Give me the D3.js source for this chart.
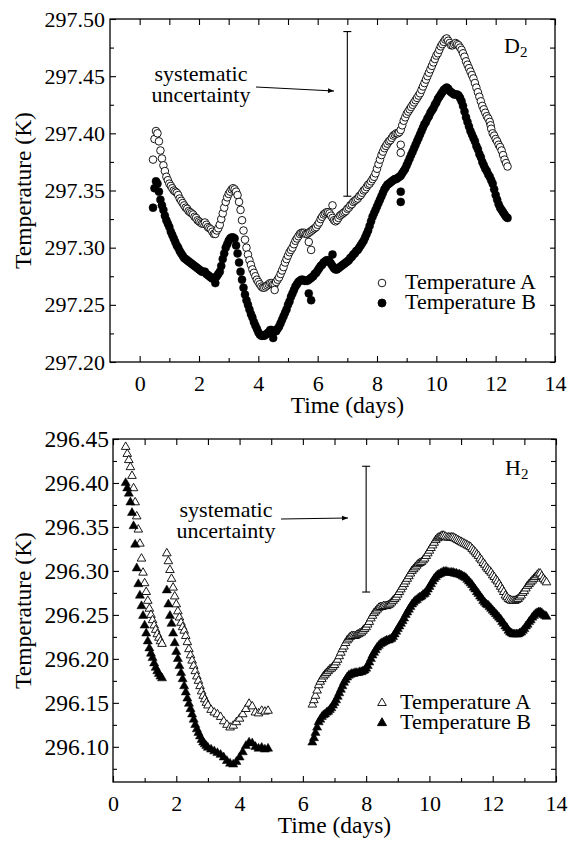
<!DOCTYPE html>
<html>
<head>
<meta charset="utf-8">
<script src="https://d3js.org/d3.v7.min.js"></script>
<style>
  body { margin: 0; background: #fff; }
</style>
</head>
<body>
<div id="chart"></div>
<script>

  // ---- D2 panel data (days, temperature in K) ----
  var d2Days = [
    0.5, 0.6, 0.7, 0.8, 0.9, 1.0, 1.1, 1.2, 1.3, 1.4,
    1.5, 1.6, 1.7, 1.8, 1.9, 2.0, 2.1, 2.2, 2.3, 2.4,
    2.5, 2.6, 2.7, 2.8, 2.9, 3.0, 3.1, 3.2, 3.3, 3.4,
    3.5, 3.6, 3.7, 3.8, 3.9, 4.0, 4.1, 4.2, 4.3, 4.4,
    4.5, 4.6, 4.7, 4.8, 4.9, 5.0, 5.1, 5.2, 5.3, 5.4,
    5.5, 5.6, 5.7, 5.8, 5.9, 6.0, 6.1, 6.2, 6.3, 6.4,
    6.5, 6.6, 6.7, 6.8, 6.9, 7.0, 7.1, 7.2, 7.3, 7.4,
    7.5, 7.6, 7.7, 7.8, 7.9, 8.0, 8.1, 8.2, 8.3, 8.4,
    8.5, 8.6, 8.7, 8.8, 8.9, 9.0, 9.1, 9.2, 9.3, 9.4,
    9.5, 9.6, 9.7, 9.8, 9.9, 10.0, 10.1, 10.2, 10.3, 10.4,
    10.5, 10.6, 10.7, 10.8, 10.9, 11.0, 11.1, 11.2, 11.3, 11.4,
    11.5, 11.6, 11.7, 11.8, 11.9, 12.0, 12.1, 12.2, 12.3, 12.4
  ];
  var d2TempA = [
    297.395, 297.400, 297.385, 297.372, 297.362, 297.356, 297.352, 297.349, 297.346, 297.341,
    297.337, 297.334, 297.331, 297.329, 297.326, 297.323, 297.321, 297.322, 297.318, 297.316,
    297.312, 297.315, 297.320, 297.330, 297.340, 297.347, 297.351, 297.351, 297.346, 297.333,
    297.315, 297.300, 297.289, 297.281, 297.275, 297.270, 297.266, 297.265, 297.267, 297.269,
    297.268, 297.270, 297.274, 297.280, 297.287, 297.293, 297.298, 297.303, 297.308, 297.312,
    297.313, 297.312, 297.313, 297.315, 297.317, 297.320, 297.325, 297.329, 297.331, 297.330,
    297.326, 297.323, 297.326, 297.329, 297.331, 297.334, 297.337, 297.340, 297.342, 297.345,
    297.348, 297.351, 297.355, 297.358, 297.362, 297.369, 297.377, 297.384, 297.389, 297.393,
    297.396, 297.399, 297.400, 297.403, 297.411, 297.417, 297.421, 297.425, 297.429, 297.433,
    297.438, 297.444, 297.450, 297.456, 297.462, 297.468, 297.473, 297.478, 297.482, 297.481,
    297.477, 297.478, 297.478, 297.475, 297.470, 297.463, 297.457, 297.451, 297.444, 297.436,
    297.428, 297.421, 297.415, 297.410, 297.400, 297.395, 297.390, 297.385, 297.377, 297.371
  ];
  var d2TempB = [
    297.352, 297.356, 297.342, 297.333, 297.324, 297.318, 297.311, 297.305, 297.300, 297.295,
    297.291, 297.289, 297.287, 297.285, 297.283, 297.281, 297.279, 297.279, 297.276, 297.274,
    297.273, 297.275, 297.279, 297.290, 297.300, 297.306, 297.309, 297.308, 297.295, 297.279,
    297.265, 297.254, 297.246, 297.239, 297.232, 297.226, 297.223, 297.223, 297.225, 297.228,
    297.227, 297.227, 297.231, 297.237, 297.243, 297.250, 297.257, 297.263, 297.268, 297.271,
    297.272, 297.271, 297.272, 297.274, 297.277, 297.280, 297.284, 297.287, 297.289, 297.288,
    297.284, 297.281, 297.282, 297.284, 297.286, 297.288, 297.291, 297.294, 297.297, 297.300,
    297.304, 297.309, 297.315, 297.323, 297.330, 297.336, 297.342, 297.348, 297.353, 297.356,
    297.358, 297.360, 297.361, 297.363, 297.367, 297.372, 297.378, 297.384, 297.390, 297.396,
    297.402, 297.408, 297.413, 297.418, 297.422, 297.427, 297.432, 297.436, 297.439, 297.439,
    297.436, 297.434, 297.434, 297.431, 297.424, 297.414, 297.406, 297.399, 297.393, 297.386,
    297.379, 297.372, 297.367, 297.362, 297.356, 297.346, 297.338, 297.333, 297.329, 297.326
  ];
  // readings taken between the ones above
  var d2DaysMid = [
    0.55, 0.65, 0.75, 0.85, 0.95, 1.05, 1.15, 1.25, 1.35, 1.45,
    1.55, 1.65, 1.75, 1.85, 1.95, 2.05, 2.15, 2.25, 2.35, 2.45,
    2.55, 2.65, 2.75, 2.85, 2.95, 3.05, 3.15, 3.25, 3.35, 3.45,
    3.55, 3.65, 3.75, 3.85, 3.95, 4.05, 4.15, 4.25, 4.35, 4.45,
    4.55, 4.65, 4.75, 4.85, 4.95, 5.05, 5.15, 5.25, 5.35, 5.45,
    5.55, 5.65, 5.75, 5.85, 5.95, 6.05, 6.15, 6.25, 6.35, 6.45,
    6.55, 6.65, 6.75, 6.85, 6.95, 7.05, 7.15, 7.25, 7.35, 7.45,
    7.55, 7.65, 7.75, 7.85, 7.95, 8.05, 8.15, 8.25, 8.35, 8.45,
    8.55, 8.65, 8.75, 8.85, 8.95, 9.05, 9.15, 9.25, 9.35, 9.45,
    9.55, 9.65, 9.75, 9.85, 9.95, 10.05, 10.15, 10.25, 10.35, 10.45,
    10.55, 10.65, 10.75, 10.85, 10.95, 11.05, 11.15, 11.25, 11.35, 11.45,
    11.55, 11.65, 11.75, 11.85, 11.95, 12.05, 12.15, 12.25, 12.35
  ];
  var d2TempAMid = [
    297.402, 297.393, 297.378, 297.367, 297.359, 297.354, 297.350, 297.348, 297.343, 297.339,
    297.335, 297.332, 297.330, 297.327, 297.324, 297.322, 297.321, 297.320, 297.317, 297.314,
    297.312, 297.317, 297.325, 297.335, 297.344, 297.349, 297.352, 297.349, 297.340, 297.324,
    297.307, 297.294, 297.285, 297.278, 297.272, 297.268, 297.265, 297.266, 297.268, 297.269,
    297.268, 297.272, 297.277, 297.283, 297.290, 297.296, 297.300, 297.306, 297.310, 297.313,
    297.313, 297.312, 297.314, 297.316, 297.318, 297.322, 297.327, 297.330, 297.331, 297.328,
    297.324, 297.324, 297.328, 297.330, 297.332, 297.335, 297.338, 297.341, 297.343, 297.346,
    297.350, 297.353, 297.356, 297.360, 297.365, 297.373, 297.381, 297.387, 297.391, 297.394,
    297.398, 297.400, 297.401, 297.407, 297.414, 297.419, 297.423, 297.427, 297.431, 297.435,
    297.441, 297.447, 297.453, 297.459, 297.465, 297.470, 297.476, 297.480, 297.483, 297.479,
    297.477, 297.479, 297.477, 297.473, 297.467, 297.460, 297.454, 297.448, 297.440, 297.432,
    297.424, 297.418, 297.413, 297.404, 297.398, 297.393, 297.388, 297.381, 297.374
  ];
  var d2TempBMid = [
    297.358, 297.349, 297.337, 297.328, 297.321, 297.314, 297.308, 297.302, 297.297, 297.293,
    297.290, 297.288, 297.286, 297.284, 297.282, 297.280, 297.279, 297.277, 297.275, 297.273,
    297.274, 297.277, 297.284, 297.295, 297.303, 297.308, 297.309, 297.302, 297.287, 297.272,
    297.259, 297.250, 297.242, 297.235, 297.229, 297.224, 297.223, 297.224, 297.226, 297.228,
    297.227, 297.229, 297.234, 297.240, 297.246, 297.253, 297.260, 297.266, 297.270, 297.272,
    297.271, 297.271, 297.273, 297.275, 297.278, 297.282, 297.285, 297.288, 297.289, 297.286,
    297.282, 297.281, 297.283, 297.285, 297.287, 297.289, 297.292, 297.295, 297.298, 297.302,
    297.306, 297.312, 297.319, 297.327, 297.333, 297.339, 297.345, 297.351, 297.355, 297.357,
    297.359, 297.360, 297.362, 297.365, 297.369, 297.375, 297.381, 297.387, 297.393, 297.399,
    297.405, 297.410, 297.415, 297.420, 297.425, 297.430, 297.434, 297.438, 297.440, 297.437,
    297.435, 297.434, 297.433, 297.428, 297.419, 297.410, 297.402, 297.396, 297.389, 297.382,
    297.375, 297.369, 297.364, 297.359, 297.351, 297.342, 297.335, 297.331, 297.327
  ];
  // stray readings
  var d2StrayDaysA = [0.45, 4.55, 5.7, 5.78, 6.5, 8.8, 8.8, 11.83];
  var d2StrayA = [297.377, 297.263, 297.305, 297.298, 297.337, 297.390, 297.383, 297.407];
  var d2StrayDaysB = [0.45, 2.55, 4.5, 5.7, 5.78, 6.5, 8.8, 8.8];
  var d2StrayB = [297.335, 297.269, 297.221, 297.260, 297.254, 297.294, 297.349, 297.340];

  // ---- H2 panel data ----
  var h2Days = [
    0.40, 0.45, 0.50, 0.55, 0.60, 0.65, 0.70, 0.75, 0.80, 0.85, 0.90, 0.95,
    1.00, 1.05, 1.10, 1.15, 1.20, 1.25, 1.30, 1.35, 1.40, 1.45, 1.50, 1.55,
    1.70, 1.75, 1.80, 1.85, 1.90, 1.95, 2.00, 2.05, 2.10, 2.15, 2.20, 2.25, 2.30, 2.35,
    2.40, 2.45, 2.50, 2.55, 2.60, 2.65, 2.70, 2.75, 2.80, 2.85, 2.90, 2.95, 3.00,
    3.1, 3.2, 3.3, 3.4, 3.5, 3.6, 3.7, 3.8, 3.9, 4.0, 4.1, 4.2, 4.3, 4.4, 4.5, 4.6, 4.7, 4.8, 4.9,
    6.3, 6.4, 6.5, 6.6, 6.7, 6.8, 6.9, 7.0, 7.1, 7.2,
    7.3, 7.4, 7.5, 7.6, 7.7, 7.8, 7.9, 8.0, 8.1, 8.2,
    8.3, 8.4, 8.5, 8.6, 8.7, 8.8, 8.9, 9.0, 9.1, 9.2,
    9.3, 9.4, 9.5, 9.6, 9.7, 9.8, 9.9, 10.0, 10.1, 10.2,
    10.3, 10.4, 10.5, 10.6, 10.7, 10.8, 10.9, 11.0, 11.1, 11.2,
    11.3, 11.4, 11.5, 11.6, 11.7, 11.8, 11.9, 12.0, 12.1, 12.2,
    12.3, 12.4, 12.5, 12.6, 12.7, 12.8, 12.9, 13.0, 13.1, 13.2,
    13.3, 13.4, 13.5, 13.6, 13.7
  ];
  var h2TempA = [
    296.441, 296.433, 296.426, 296.418, 296.408, 296.394, 296.378, 296.362, 296.347, 296.331, 296.314, 296.298,
    296.286, 296.276, 296.266, 296.257, 296.250, 296.244, 296.238, 296.233, 296.228, 296.224, 296.220, 296.217,
    296.320, 296.311, 296.301, 296.291, 296.281, 296.271, 296.262, 296.254, 296.247, 296.241, 296.236, 296.232, 296.226, 296.219,
    296.211, 296.204, 296.198, 296.192, 296.186, 296.180, 296.175, 296.169, 296.163, 296.158, 296.154, 296.150, 296.147,
    296.142, 296.139, 296.137, 296.134, 296.129, 296.125, 296.122, 296.124, 296.128, 296.132, 296.137, 296.143, 296.149, 296.146, 296.139, 296.138, 296.141, 296.140, 296.141,
    296.148, 296.158, 296.170, 296.177, 296.182, 296.186, 296.189, 296.193, 296.199, 296.207,
    296.214, 296.221, 296.225, 296.226, 296.227, 296.229, 296.232, 296.236, 296.242, 296.249,
    296.254, 296.258, 296.259, 296.260, 296.261, 296.264, 296.268, 296.273, 296.279, 296.285,
    296.291, 296.297, 296.302, 296.306, 296.309, 296.312, 296.317, 296.323, 296.329, 296.335,
    296.338, 296.340, 296.339, 296.338, 296.338, 296.337, 296.335, 296.333, 296.331, 296.329,
    296.327, 296.323, 296.319, 296.314, 296.309, 296.304, 296.300, 296.295, 296.290, 296.285,
    296.279, 296.272, 296.268, 296.266, 296.266, 296.268, 296.272, 296.277, 296.283, 296.287,
    296.291, 296.295, 296.297, 296.291, 296.287
  ];
  var h2TempB = [
    296.400, 296.394, 296.388, 296.378, 296.366, 296.351, 296.330, 296.303, 296.285, 296.272, 296.260, 296.249,
    296.238, 296.229, 296.220, 296.212, 296.206, 296.201, 296.195, 296.190, 296.186, 296.183, 296.180, 296.178,
    296.278, 296.262, 296.249, 296.240, 296.229, 296.218, 296.208, 296.200, 296.192, 296.184, 296.177, 296.169, 296.162, 296.155,
    296.149, 296.143, 296.137, 296.131, 296.125, 296.120, 296.116, 296.112, 296.108, 296.105, 296.103, 296.101, 296.099,
    296.097, 296.095, 296.093, 296.091, 296.088, 296.084, 296.081, 296.080, 296.083, 296.088, 296.094, 296.101, 296.105, 296.104, 296.100, 296.098, 296.099, 296.097, 296.098,
    296.105, 296.116, 296.128, 296.134, 296.137, 296.140, 296.144, 296.150, 296.157, 296.165,
    296.173, 296.179, 296.182, 296.183, 296.184, 296.185, 296.186, 296.189, 296.196, 296.204,
    296.210, 296.215, 296.218, 296.220, 296.221, 296.223, 296.228, 296.234, 296.240, 296.246,
    296.253, 296.259, 296.264, 296.267, 296.270, 296.273, 296.276, 296.282, 296.288, 296.293,
    296.296, 296.298, 296.299, 296.298, 296.298, 296.297, 296.296, 296.295, 296.293, 296.290,
    296.286, 296.281, 296.276, 296.271, 296.266, 296.262, 296.259, 296.255, 296.251, 296.247,
    296.242, 296.237, 296.232, 296.229, 296.228, 296.228, 296.230, 296.234, 296.239, 296.244,
    296.249, 296.252, 296.253, 296.250, 296.248
  ];
  // extra readings along the last run (6.35 .. 13.65 days)
  var h2DaysMid = [
    6.35, 6.45, 6.55, 6.65, 6.75, 6.85, 6.95, 7.05, 7.15, 7.25,
    7.35, 7.45, 7.55, 7.65, 7.75, 7.85, 7.95, 8.05, 8.15, 8.25,
    8.35, 8.45, 8.55, 8.65, 8.75, 8.85, 8.95, 9.05, 9.15, 9.25,
    9.35, 9.45, 9.55, 9.65, 9.75, 9.85, 9.95, 10.05, 10.15, 10.25,
    10.35, 10.45, 10.55, 10.65, 10.75, 10.85, 10.95, 11.05, 11.15, 11.25,
    11.35, 11.45, 11.55, 11.65, 11.75, 11.85, 11.95, 12.05, 12.15, 12.25,
    12.35, 12.45, 12.55, 12.65, 12.75, 12.85, 12.95, 13.05, 13.15, 13.25,
    13.35, 13.45, 13.55, 13.65
  ];
  var h2TempAMid = [
    296.153, 296.164, 296.174, 296.180, 296.184, 296.188, 296.191, 296.196, 296.203, 296.211,
    296.218, 296.223, 296.226, 296.226, 296.228, 296.230, 296.234, 296.239, 296.246, 296.252,
    296.256, 296.259, 296.260, 296.260, 296.262, 296.266, 296.270, 296.276, 296.282, 296.288,
    296.294, 296.300, 296.304, 296.308, 296.310, 296.314, 296.320, 296.326, 296.332, 296.337,
    296.339, 296.340, 296.338, 296.338, 296.338, 296.336, 296.334, 296.332, 296.330, 296.328,
    296.325, 296.321, 296.317, 296.312, 296.307, 296.302, 296.298, 296.293, 296.288, 296.282,
    296.276, 296.270, 296.267, 296.266, 296.267, 296.270, 296.275, 296.280, 296.285, 296.289,
    296.293, 296.297, 296.294, 296.289
  ];
  var h2TempBMid = [
    296.110, 296.122, 296.131, 296.136, 296.139, 296.142, 296.147, 296.153, 296.161, 296.169,
    296.176, 296.181, 296.183, 296.184, 296.184, 296.185, 296.187, 296.192, 296.200, 296.207,
    296.213, 296.217, 296.219, 296.221, 296.222, 296.225, 296.231, 296.237, 296.243, 296.250,
    296.256, 296.262, 296.266, 296.269, 296.271, 296.274, 296.279, 296.285, 296.291, 296.295,
    296.297, 296.299, 296.299, 296.298, 296.298, 296.297, 296.296, 296.294, 296.292, 296.288,
    296.284, 296.279, 296.274, 296.269, 296.264, 296.261, 296.257, 296.253, 296.249, 296.245,
    296.240, 296.235, 296.230, 296.228, 296.228, 296.229, 296.232, 296.237, 296.242, 296.247,
    296.251, 296.253, 296.252, 296.249
  ];

  // ticks
  var d2YTicks = [297.20, 297.25, 297.30, 297.35, 297.40, 297.45, 297.50];
  var d2YMinor = [297.225, 297.275, 297.325, 297.375, 297.425, 297.475];
  var h2YTicks = [296.10, 296.15, 296.20, 296.25, 296.30, 296.35, 296.40, 296.45];
  var h2YMinor = [296.075, 296.125, 296.175, 296.225, 296.275, 296.325, 296.375, 296.425];
  var xTicks = [0, 2, 4, 6, 8, 10, 12, 14];
  var xMinor = [1, 3, 5, 7, 9, 11, 13];

  // systematic uncertainty bars [day, low, high]
  var d2ErrBar = [7.0, 297.345, 297.489];
  var h2ErrBar = [8.0, 296.276, 296.419];

  var FONT = "Liberation Serif";
  var W = 569, H = 844;
  var svg = d3.select("#chart").append("svg")
    .attr("width", W).attr("height", H)
    .attr("font-family", FONT);

  svg.append("defs").append("marker")
    .attr("id", "arrow")
    .attr("viewBox", "0 0 10 10")
    .attr("refX", 10).attr("refY", 5)
    .attr("markerWidth", 9).attr("markerHeight", 6)
    .attr("markerUnits", "userSpaceOnUse")
    .attr("orient", "auto")
    .append("path")
    .attr("d", "M0,1 L10,5 L0,9 z")
    .attr("fill", "#000");

  function txt(g) {
    return g.append("text").attr("font-family", FONT).attr("fill", "#000");
  }

  // join several (days, temps) pairs into one list sorted by time
  function merge(pairs) {
    var out = [];
    pairs.forEach(function (p) {
      p[0].forEach(function (d, i) { out.push([d, p[1][i]]); });
    });
    return out.sort(function (a, b) { return a[0] - b[0]; });
  }

  function drawPanel(cfg) {
    var x = d3.scaleLinear().domain(cfg.xDomain).range([cfg.left, cfg.right]);
    var y = d3.scaleLinear().domain(cfg.yDomain).range([cfg.bottom, cfg.top]);
    var g = svg.append("g");

    var symA = d3.symbol().type(d3.symbolTriangle).size(32);
    var symB = d3.symbol().type(d3.symbolTriangle).size(36);

    function plot(pts, filled) {
      var sel = g.append("g").selectAll("x").data(pts).enter();
      if (cfg.shape === "circle") {
        sel.append("circle")
          .attr("cx", function (d) { return x(d[0]); })
          .attr("cy", function (d) { return y(d[1]); })
          .attr("r", filled ? 4 : 3.8)
          .attr("fill", filled ? "#000" : "#fff")
          .attr("stroke", "#000")
          .attr("stroke-width", filled ? 0.5 : 0.9);
      } else {
        sel.append("path")
          .attr("d", filled ? symB : symA)
          .attr("transform", function (d) { return "translate(" + x(d[0]) + "," + y(d[1]) + ")"; })
          .attr("fill", filled ? "#000" : "#fff")
          .attr("stroke", "#000")
          .attr("stroke-width", filled ? 0.5 : 0.9);
      }
    }
    plot(merge(cfg.seriesA), false);
    plot(merge(cfg.seriesB), true);

    // axes (ticks pointing inward on all sides)
    var fs = cfg.tickFont;
    var bx = g.append("g").attr("transform", "translate(0," + cfg.bottom + ")")
      .call(d3.axisBottom(x).tickValues(xTicks).tickSizeInner(-6).tickSizeOuter(0)
        .tickPadding(13).tickFormat(d3.format("d")));
    g.append("g").attr("transform", "translate(0," + cfg.bottom + ")")
      .call(d3.axisBottom(x).tickValues(xMinor).tickSizeInner(-4).tickSizeOuter(0).tickFormat(""));
    g.append("g").attr("transform", "translate(0," + cfg.top + ")")
      .call(d3.axisTop(x).tickValues(xTicks.concat(xMinor)).tickSizeInner(-6).tickSizeOuter(0).tickFormat(""));
    var ly = g.append("g").attr("transform", "translate(" + cfg.left + ",0)")
      .call(d3.axisLeft(y).tickValues(cfg.yTicks).tickSizeInner(-6).tickSizeOuter(0)
        .tickPadding(cfg.yPad).tickFormat(d3.format(".2f")));
    g.append("g").attr("transform", "translate(" + cfg.left + ",0)")
      .call(d3.axisLeft(y).tickValues(cfg.yMinor).tickSizeInner(-4).tickSizeOuter(0).tickFormat(""));
    g.append("g").attr("transform", "translate(" + cfg.right + ",0)")
      .call(d3.axisRight(y).tickValues(cfg.yTicks.concat(cfg.yMinor)).tickSizeInner(-5).tickSizeOuter(0).tickFormat(""));

    g.selectAll(".domain").remove();
    g.selectAll("g").attr("font-family", FONT);
    g.selectAll(".tick line").attr("stroke", "#000").attr("stroke-width", 1.1);
    bx.attr("font-size", 22).selectAll("text").attr("font-family", FONT).attr("font-size", 22).attr("fill", "#000");
    ly.attr("font-size", fs).selectAll("text").attr("font-family", FONT).attr("font-size", fs).attr("fill", "#000");

    g.append("rect")
      .attr("x", cfg.left).attr("y", cfg.top)
      .attr("width", cfg.right - cfg.left).attr("height", cfg.bottom - cfg.top)
      .attr("fill", "none").attr("stroke", "#000").attr("stroke-width", 1.3);

    // axis titles
    txt(g).attr("x", x(7)).attr("y", cfg.bottom + 51)
      .attr("text-anchor", "middle").attr("font-size", 23.5)
      .text("Time (days)");
    txt(g).attr("transform", "translate(31," + ((cfg.top + cfg.bottom) / 2) + ") rotate(-90)")
      .attr("text-anchor", "middle").attr("font-size", 23.5)
      .text("Temperature (K)");

    // gas label with subscript
    var lab = txt(g).attr("x", cfg.right - 51).attr("y", cfg.labelY)
      .attr("font-size", 22).text(cfg.gas);
    lab.append("tspan").attr("dy", 4).attr("font-size", 15).text("2");

    // systematic uncertainty annotation
    var eb = cfg.errBar;
    var ex = x(eb[0]);
    g.append("line").attr("x1", ex).attr("x2", ex).attr("y1", y(eb[1])).attr("y2", y(eb[2]))
      .attr("stroke", "#000").attr("stroke-width", 1.1);
    [eb[1], eb[2]].forEach(function (v) {
      g.append("line").attr("x1", ex - 4).attr("x2", ex + 4).attr("y1", y(v)).attr("y2", y(v))
        .attr("stroke", "#000").attr("stroke-width", 1.1);
    });
    txt(g).attr("x", cfg.noteX).attr("y", cfg.noteY)
      .attr("text-anchor", "middle").attr("font-size", 22).text("systematic");
    txt(g).attr("x", cfg.noteX).attr("y", cfg.noteY + 21)
      .attr("text-anchor", "middle").attr("font-size", 22).text("uncertainty");
    g.append("line")
      .attr("x1", cfg.arrow[0]).attr("y1", cfg.arrow[1])
      .attr("x2", cfg.arrow[2]).attr("y2", cfg.arrow[3])
      .attr("stroke", "#000").attr("stroke-width", 1.1)
      .attr("marker-end", "url(#arrow)");

    // legend
    var names = ["Temperature A", "Temperature B"];
    names.forEach(function (n, i) {
      var cy = cfg.legY + i * 20;
      var filled = i === 1;
      if (cfg.shape === "circle") {
        g.append("circle").attr("cx", 382).attr("cy", cy).attr("r", filled ? 4 : 3.8)
          .attr("fill", filled ? "#000" : "#fff").attr("stroke", "#000").attr("stroke-width", 0.9);
      } else {
        g.append("path").attr("d", filled ? symB : symA)
          .attr("transform", "translate(382," + cy + ")")
          .attr("fill", filled ? "#000" : "#fff").attr("stroke", "#000").attr("stroke-width", 0.9);
      }
      txt(g).attr("x", cfg.legTextX).attr("y", cy + 6)
        .attr("font-size", 22).text(n);
    });
  }

  drawPanel({
    left: 110, right: 555, top: 19, bottom: 362,
    xDomain: [-1, 14], yDomain: [297.20, 297.50],
    yTicks: d2YTicks, yMinor: d2YMinor, yPad: 5, tickFont: 22,
    seriesA: [[d2Days, d2TempA], [d2DaysMid, d2TempAMid], [d2StrayDaysA, d2StrayA]],
    seriesB: [[d2Days, d2TempB], [d2DaysMid, d2TempBMid], [d2StrayDaysB, d2StrayB]],
    shape: "circle", gas: "D", labelY: 53,
    errBar: d2ErrBar, noteX: 201, noteY: 81, arrow: [256, 87, 334, 91],
    legY: 283, legTextX: 405
  });

  drawPanel({
    left: 113, right: 556, top: 439, bottom: 782,
    xDomain: [0, 14], yDomain: [296.06, 296.45],
    yTicks: h2YTicks, yMinor: h2YMinor, yPad: 4, tickFont: 23.5,
    seriesA: [[h2Days, h2TempA], [h2DaysMid, h2TempAMid]],
    seriesB: [[h2Days, h2TempB], [h2DaysMid, h2TempBMid]],
    shape: "triangle", gas: "H", labelY: 475,
    errBar: h2ErrBar, noteX: 226, noteY: 517, arrow: [281, 519, 348, 518],
    legY: 703, legTextX: 400
  });

</script>
</body>
</html>
